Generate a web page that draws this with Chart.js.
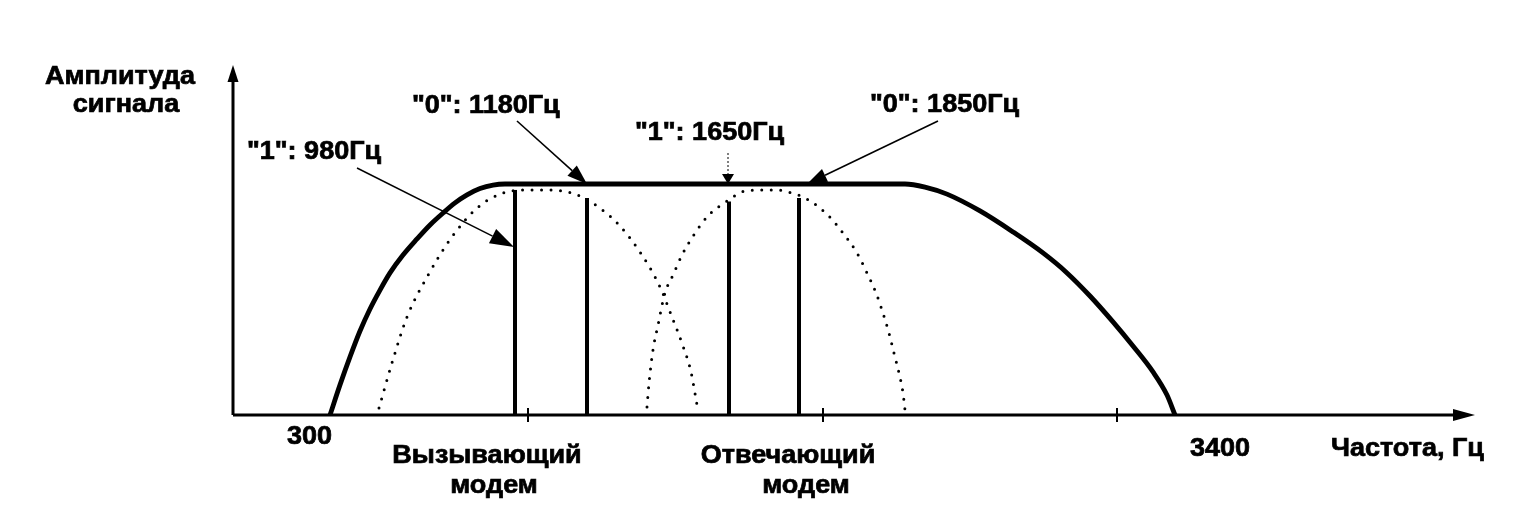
<!DOCTYPE html>
<html>
<head>
<meta charset="utf-8">
<script src="https://cdn.jsdelivr.net/npm/chart.js@4.4.1/dist/chart.umd.min.js"></script>
<style>
  html, body { margin: 0; padding: 0; background: #fff; }
  canvas { display: block; }
</style>
</head>
<body>
<canvas id="c" width="1535" height="506"></canvas>
<script>
// ---- data (schematic position along frequency axis, relative amplitude) ----
const channelX = [97, 107, 117, 127, 137, 147, 157, 170, 184, 197, 210, 222, 234, 247, 260, 272,
                  672, 692, 714, 747, 780, 810, 834, 857, 880, 900, 920, 934, 942];
const channelY = [0, 8.6, 16.6, 24, 30.3, 35.7, 40.6, 45.7, 50.3, 54.3, 57.7, 60.6, 62.9, 64.7, 65.7, 66,
                  66, 65.1, 63.1, 58.3, 52.3, 46.3, 40.6, 34, 26.6, 19.7, 12.3, 5.7, 0];

const callingX = [146, 159, 174, 194, 219, 244, 267, 294, 312, 329, 344, 367, 387, 409, 427, 439, 450, 458, 464];
const callingY = [2, 14.9, 28, 39.4, 50.9, 59.1, 63.1, 64.3, 64.3, 64, 62.9, 59.1, 54, 45.7, 36.6, 28, 19.7, 12.3, 2.9];

const answerX = [414, 416, 420, 425, 432, 440, 449, 460, 475, 494, 512, 532, 544, 559, 574, 595, 610, 624, 634, 643, 650, 656, 661, 666, 670, 672];
const answerY = [2.3, 9.1, 18.6, 25.7, 34.9, 40, 45.7, 51.1, 56.9, 61.1, 64, 64.3, 64.3, 63.4, 61.7, 57.1, 52, 46.3, 40.6, 34.9, 29.1, 23.4, 17.7, 12, 6.3, 1.4];

const toneX = [282, 354, 496, 566];
const toneTop = [64.3, 62, 61, 62];
const toneLabels = ['"1": 980Гц', '"0": 1180Гц', '"1": 1650Гц', '"0": 1850Гц'];

const axisTickX = [295, 590, 884];
const tickLabels = ['300', '3400'];
const modemLabels = [['Вызывающий', 'модем'], ['Отвечающий', 'модем']];
const yTitle = ['Амплитуда', 'сигнала'];
const xTitle = 'Частота, Гц';

// ---- build datasets ----
const pts = (xs, ys) => xs.map((x, i) => ({ x: x, y: ys[i] }));
const datasets = [
  { data: pts(channelX, channelY), borderColor: '#000', borderWidth: 4.8, cubicInterpolationMode: 'monotone', borderCapStyle: 'round', borderJoinStyle: 'round' },
  { data: pts(callingX, callingY), borderColor: '#000', borderWidth: 3, borderDash: [0, 9.5], borderCapStyle: 'round', cubicInterpolationMode: 'monotone' },
  { data: pts(answerX, answerY), borderColor: '#000', borderWidth: 3, borderDash: [0, 9.5], borderCapStyle: 'round', cubicInterpolationMode: 'monotone' }
];
toneX.forEach((x, i) => {
  datasets.push({ data: [{ x: x, y: 0 }, { x: x, y: toneTop[i] }], borderColor: '#000', borderWidth: 4, borderCapStyle: 'butt' });
});

const FONT = 'bold 25px "Liberation Sans", Arial, sans-serif';
const STRETCH = 1.08;

function arrow(ctx, x1, y1, x2, y2, lw, hl, hw, dash) {
  const a = Math.atan2(y2 - y1, x2 - x1);
  const bx = x2 - hl * Math.cos(a), by = y2 - hl * Math.sin(a);
  ctx.save();
  ctx.strokeStyle = '#000'; ctx.fillStyle = '#000'; ctx.lineWidth = lw;
  if (dash) ctx.setLineDash(dash);
  ctx.beginPath(); ctx.moveTo(x1, y1); ctx.lineTo(bx, by); ctx.stroke();
  ctx.setLineDash([]);
  ctx.beginPath();
  ctx.moveTo(x2, y2);
  ctx.lineTo(bx + hw * Math.sin(a), by - hw * Math.cos(a));
  ctx.lineTo(bx - hw * Math.sin(a), by + hw * Math.cos(a));
  ctx.closePath(); ctx.fill();
  ctx.restore();
}

function txt(ctx, s, x, y, align) {
  ctx.save();
  ctx.translate(x, y);
  ctx.scale(STRETCH, 1);
  ctx.font = FONT; ctx.textBaseline = 'middle'; ctx.textAlign = align;
  ctx.fillStyle = '#000'; ctx.strokeStyle = '#000'; ctx.lineWidth = 0.7;
  ctx.fillText(s, 0, 0); ctx.strokeText(s, 0, 0);
  ctx.restore();
}

const decor = {
  id: 'decor',
  afterDatasetsDraw(chart) {
    const ctx = chart.ctx, ca = chart.chartArea;
    const xs = chart.scales.x, ys = chart.scales.y;
    const X = v => xs.getPixelForValue(v), Y = v => ys.getPixelForValue(v);
    ctx.save();
    // axes
    ctx.strokeStyle = '#000'; ctx.fillStyle = '#000'; ctx.lineWidth = 3;
    ctx.beginPath(); ctx.moveTo(ca.left, ca.bottom); ctx.lineTo(ca.right - 18, ca.bottom); ctx.stroke();
    ctx.beginPath(); ctx.moveTo(ca.left, ca.bottom); ctx.lineTo(ca.left, ca.top + 16); ctx.stroke();
    ctx.beginPath(); ctx.moveTo(ca.right, ca.bottom); ctx.lineTo(ca.right - 22, ca.bottom - 6); ctx.lineTo(ca.right - 22, ca.bottom + 6); ctx.closePath(); ctx.fill();
    ctx.beginPath(); ctx.moveTo(ca.left, ca.top); ctx.lineTo(ca.left - 5.5, ca.top + 17); ctx.lineTo(ca.left + 5.5, ca.top + 17); ctx.closePath(); ctx.fill();
    // axis ticks
    ctx.lineWidth = 2;
    axisTickX.forEach(v => { ctx.beginPath(); ctx.moveTo(X(v), ca.bottom - 7); ctx.lineTo(X(v), ca.bottom + 7); ctx.stroke(); });
    ctx.restore();

    // texts
    txt(ctx, yTitle[0], 120, 77, 'center');
    txt(ctx, yTitle[1], 126, 105, 'center');
    txt(ctx, tickLabels[0], X(channelX[0]) + 2, 437, 'right');
    txt(ctx, tickLabels[1], X(channelX[channelX.length - 1]) + 15, 449, 'left');
    txt(ctx, xTitle, 1331, 449, 'left');
    txt(ctx, modemLabels[0][0], 487, 456, 'center');
    txt(ctx, modemLabels[0][1], 494, 486, 'center');
    txt(ctx, modemLabels[1][0], 788, 456, 'center');
    txt(ctx, modemLabels[1][1], 806, 486, 'center');

    txt(ctx, toneLabels[0], 247, 152, 'left');
    txt(ctx, toneLabels[1], 412, 106, 'left');
    txt(ctx, toneLabels[2], 635, 133, 'left');
    txt(ctx, toneLabels[3], 870, 105, 'left');

    // annotation arrows
    const plateau = Y(channelY[15]);
    arrow(ctx, 357, 168, X(toneX[0]) - 1, 247, 1.4, 24, 8);
    arrow(ctx, 517, 121, X(toneX[1]), plateau, 1.6, 20, 7);
    arrow(ctx, 728, 153, X(toneX[2]) - 1, plateau, 1, 10, 6, [2, 2]);
    arrow(ctx, 938, 121, X(toneX[3]) + 8, plateau, 1.6, 20, 7);
  }
};

new Chart(document.getElementById('c'), {
  type: 'line',
  data: { datasets: datasets },
  options: {
    responsive: false,
    animation: false,
    layout: { padding: { left: 233, right: 60, top: 65, bottom: 91 } },
    elements: { point: { radius: 0 }, line: { tension: 0 } },
    plugins: { legend: { display: false }, tooltip: { enabled: false } },
    scales: {
      x: { type: 'linear', min: 0, max: 1242, display: false },
      y: { type: 'linear', min: 0, max: 100, display: false }
    }
  },
  plugins: [decor]
});
</script>
</body>
</html>
